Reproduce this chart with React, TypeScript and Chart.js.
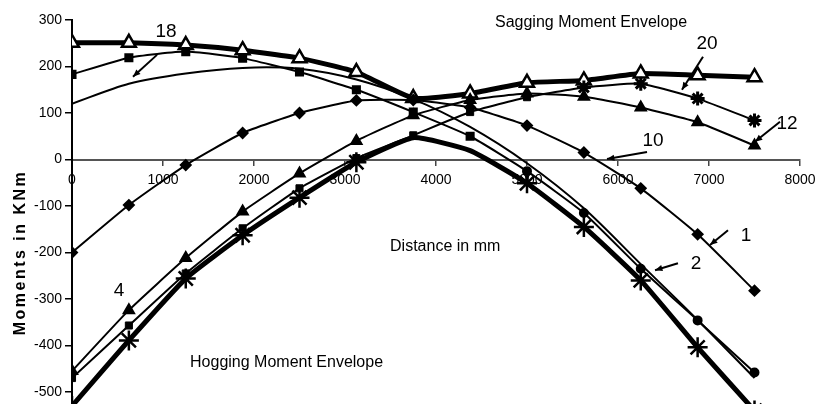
import React, { useEffect, useRef } from "react";
import { Chart, registerables } from "chart.js";

Chart.register(...registerables);

// ---- data (mm along span, moments in kNm) ----
const distances = [0, 625, 1250, 1875, 2500, 3125, 3750, 4375, 5000, 5625, 6250, 6875, 7500];
const saggingEnvelope = [251, 251, 246, 235, 218, 188, 132, 142, 165, 170, 185, 181, 177];
const hoggingEnvelope = [-530, -389, -256, -163, -82, -6, 47, 19, -51, -145, -260, -404, -540];
const curveTriangle = [-455, -324, -212, -112, -30, 40, 95, 128, 142, 135, 112, 80, 30];
const curveSquareRise = [-470, -357, -245, -148, -62, 3, 52, 102, 134, 155, 163, 131, 84];
const curveDiamond = [-200, -98, -12, 57, 100, 127, 128, 112, 73, 15, -62, -161, -282];
const curveSquareFall = [183, 219, 232, 218, 188, 150, 102, 50, -25, -115, -235, -346, -458];
const curvePlain = [120, 163, 185, 197, 195, 172, 130, 70, -8, -105, -225, -345, -470];

const xMin = 0, xMax = 8000, xStep = 1000;
const yMin = -600, yMax = 300, yStep = 100;

// annotation texts, anchored in data units
const curveLabels = [
  { text: "18", x: 1033, y: 275, from: [934, 225], to: [670, 178] },
  { text: "20", x: 6978, y: 249, from: [6934, 221], to: [6703, 150] },
  { text: "12", x: 7857, y: 77, from: [7780, 81], to: [7505, 38] },
  { text: "10", x: 6385, y: 40, from: [6319, 16], to: [5879, 1] },
  { text: "1", x: 7407, y: -165, from: [7209, -152], to: [7011, -184] },
  { text: "2", x: 6857, y: -225, from: [6659, -223], to: [6407, -238] },
  { text: "4", x: 516, y: -283, from: null, to: null },
];
const captions = [
  { text: "Sagging Moment Envelope", x: 4648, y: 285 },
  { text: "Hogging Moment Envelope", x: 1297, y: -447 },
  { text: "Distance in mm", x: 3495, y: -197 },
];
const yTitle = "Moments in KNm";

const FONT = "'Liberation Sans', Arial, sans-serif";
const TENSION = 0.15;

const toPoints = (vals: number[]) => distances.map((d, i) => ({ x: d, y: vals[i] }));

const notesPlugin = {
  id: "notes",
  afterDatasetsDraw(chart: any) {
    const { ctx, scales } = chart;
    const xs = scales.x, ys = scales.y;
    ctx.save();
    ctx.fillStyle = "#000";
    ctx.strokeStyle = "#000";
    // captions
    ctx.font = `16px ${FONT}`;
    ctx.textAlign = "left";
    ctx.textBaseline = "alphabetic";
    captions.forEach((c) => {
      ctx.fillText(c.text, xs.getPixelForValue(c.x), ys.getPixelForValue(c.y));
    });
    // curve numbers + arrows
    ctx.font = `19px ${FONT}`;
    ctx.textAlign = "center";
    ctx.textBaseline = "middle";
    curveLabels.forEach((l) => {
      ctx.fillText(l.text, xs.getPixelForValue(l.x), ys.getPixelForValue(l.y));
      if (l.from && l.to) {
        const x1 = xs.getPixelForValue(l.from[0]);
        const y1 = ys.getPixelForValue(l.from[1]);
        const x2 = xs.getPixelForValue(l.to[0]);
        const y2 = ys.getPixelForValue(l.to[1]);
        ctx.lineWidth = 2;
        ctx.beginPath();
        ctx.moveTo(x1, y1);
        ctx.lineTo(x2, y2);
        ctx.stroke();
        const a = Math.atan2(y2 - y1, x2 - x1);
        const h = 8;
        ctx.beginPath();
        ctx.moveTo(x2, y2);
        ctx.lineTo(x2 - h * Math.cos(a - 0.4), y2 - h * Math.sin(a - 0.4));
        ctx.lineTo(x2 - h * Math.cos(a + 0.4), y2 - h * Math.sin(a + 0.4));
        ctx.closePath();
        ctx.fill();
      }
    });
    // y axis title, letter-spaced, rotated
    ctx.font = `bold 16px ${FONT}`;
    (ctx as any).letterSpacing = "2.5px";
    ctx.translate(21, ys.getPixelForValue(-200));
    ctx.rotate(-Math.PI / 2);
    ctx.textAlign = "center";
    ctx.textBaseline = "middle";
    ctx.fillText(yTitle, 0, 0);
    ctx.restore();
  },
};

export default function App() {
  const ref = useRef<HTMLCanvasElement | null>(null);

  useEffect(() => {
    if (!ref.current) return;
    const black = "#000";
    const chart = new Chart(ref.current, {
      type: "line",
      data: {
        datasets: [
          {
            label: "Curve plain",
            data: toPoints(curvePlain),
            borderColor: black,
            borderWidth: 2,
            pointRadius: 0,
            tension: 0.3,
          },
          {
            label: "Curve diamond",
            data: toPoints(curveDiamond),
            borderColor: black,
            backgroundColor: black,
            borderWidth: 2,
            pointStyle: "rectRot",
            pointRadius: 5,
            tension: TENSION,
          },
          {
            label: "Curve square falling",
            data: toPoints(curveSquareFall),
            borderColor: black,
            backgroundColor: black,
            borderWidth: 2,
            pointStyle: distances.map((_, i) => (i < 8 ? "rect" : "circle")),
            pointRadius: distances.map((_, i) => (i < 8 ? 5 : 4)),
            tension: TENSION,
          },
          {
            label: "Curve triangle",
            data: toPoints(curveTriangle),
            borderColor: black,
            backgroundColor: black,
            borderWidth: 2,
            pointStyle: "triangle",
            pointRadius: 6,
            tension: TENSION,
          },
          {
            label: "Curve square rising",
            data: toPoints(curveSquareRise),
            borderColor: black,
            backgroundColor: black,
            borderWidth: 2,
            pointStyle: distances.map((_, i) => (i < 9 ? "rect" : "star")),
            pointRadius: distances.map((_, i) => (i < 9 ? 5 : 7)),
            pointBorderWidth: distances.map((_, i) => (i < 9 ? 1 : 3)),
            tension: TENSION,
          },
          {
            label: "Hogging envelope",
            data: toPoints(hoggingEnvelope),
            borderColor: black,
            backgroundColor: black,
            borderWidth: 5,
            pointStyle: "star",
            pointRadius: distances.map((_, i) => (i === 6 || i === 7 ? 0 : 10)),
            pointBorderWidth: 2.5,
            tension: TENSION,
          },
          {
            label: "Sagging envelope",
            data: toPoints(saggingEnvelope),
            borderColor: black,
            backgroundColor: "#fff",
            borderWidth: 5,
            pointStyle: "triangle",
            pointRadius: 8,
            pointBorderWidth: 2.5,
            tension: TENSION,
          },
        ],
      },
      options: {
        animation: false,
        responsive: false,
        devicePixelRatio: 1,
        layout: { padding: { top: 20, bottom: 21.5, left: 0, right: 23 } },
        plugins: {
          legend: { display: false },
          tooltip: { enabled: false },
          title: { display: false },
        },
        scales: {
          x: {
            type: "linear",
            min: xMin,
            max: xMax,
            position: { y: 0 } as any,
            ticks: {
              stepSize: xStep,
              color: black,
              font: { family: FONT, size: 14 },
              padding: 7,
              maxRotation: 0,
              callback: (v: any) => String(v),
            },
            grid: {
              drawOnChartArea: false,
              drawTicks: true,
              tickLength: 5,
              color: "#444",
              lineWidth: 1.5,
            },
            border: { display: true, color: "#555", width: 2 },
          },
          y: {
            type: "linear",
            min: yMin,
            max: yMax,
            ticks: {
              stepSize: yStep,
              color: black,
              font: { family: FONT, size: 14 },
              padding: 3,
              callback: (v: any) => String(v),
            },
            grid: {
              drawOnChartArea: false,
              drawTicks: true,
              tickLength: 7,
              color: black,
              lineWidth: 1.5,
            },
            border: { display: true, color: black, width: 2 },
            afterFit: (scale: any) => {
              scale.width = 72;
            },
          },
        },
      },
      plugins: [notesPlugin],
    });
    return () => chart.destroy();
  }, []);

  return (
    <div
      style={{
        position: "fixed",
        left: 0,
        top: 0,
        width: 823,
        height: 404,
        overflow: "hidden",
        background: "#fff",
      }}
    >
      <canvas ref={ref} width={823} height={460} style={{ display: "block" }} />
    </div>
  );
}
